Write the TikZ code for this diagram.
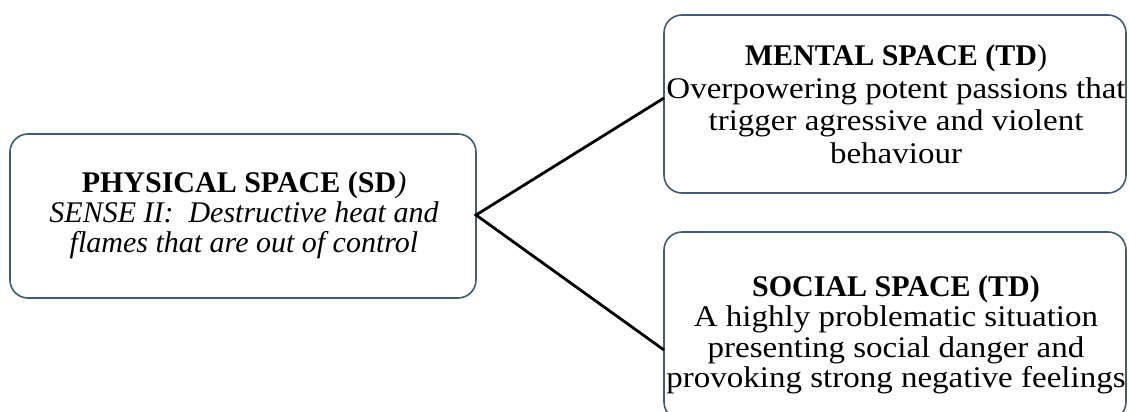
\documentclass[tikz,border=0pt]{standalone}
\usepackage{fontspec}
\setmainfont{Liberation Serif}
\newfontfamily\widefont{Liberation Serif}[FakeStretch=1.1]
\begin{document}
\begin{tikzpicture}[x=1pt,y=-1pt,
  spacebox/.style={draw=boxblue, line width=1.6pt, rounded corners=18pt, fill=white},
  boxtext/.style={align=center, inner sep=0pt},
  link/.style={draw=black, line width=2.8pt}]
\definecolor{boxblue}{HTML}{3E5B7A}
\useasboundingbox (0,0) rectangle (1129,412);
% boxes
\draw[spacebox] (10,134) rectangle (476,298);
\draw[spacebox] (664,15) rectangle (1126,193);
\draw[spacebox] (664,232) rectangle (1126,420);
\coordinate (phys) at (476,215);
\coordinate (ment) at (664,98);
\coordinate (soc) at (664,350);
% texts
\node[boxtext, font=\fontsize{30}{30}\selectfont] (physt) at (244,215)
  {\textbf{PHYSICAL SPACE (SD}\textit{)}\\ \textit{SENSE II:\ \ Destructive heat and}\\ \textit{flames that are out of control}};
\node[boxtext, font=\fontsize{30}{32.5}\selectfont] (mentt) at (896,104)
  {\textbf{MENTAL SPACE (TD})\\ {\widefont Overpowering potent passions that}\\ {\widefont trigger agressive and violent}\\ {\widefont behaviour}};
\node[boxtext, font=\fontsize{30}{30.5}\selectfont] (soct) at (896,335)
  {\textbf{SOCIAL SPACE (TD)}\\ {\widefont A highly problematic situation}\\ {\widefont presenting social danger and}\\ {\widefont provoking strong negative feelings}};
% connectors
\draw[link] (ment) -- (phys) -- (soc);
\end{tikzpicture}
\end{document}
